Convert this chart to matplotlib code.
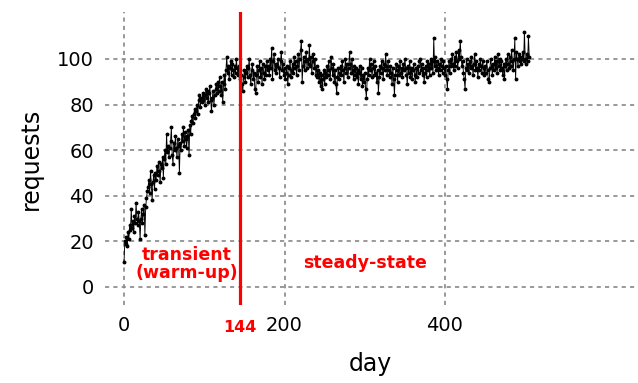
import matplotlib
matplotlib.use('Agg')
import matplotlib.pyplot as plt

# daily request counts
requests = [
    11, 20, 19, 22, 18, 24, 21, 27, 25, 34,
    26, 29, 24, 31, 28, 37, 30, 27, 33, 29,
    21, 30, 34, 28, 32, 36, 23, 35, 39, 42,
    44, 47, 41, 51, 45, 38, 46, 49, 43, 50,
    47, 53, 49, 55, 51, 46, 54, 52, 57, 48,
    56, 60, 54, 67, 59, 62, 57, 61, 64, 70,
    58, 54, 63, 60, 66, 61, 57, 65, 62, 50,
    63, 60, 67, 64, 70, 62, 68, 65, 61, 66,
    69, 58, 71, 67, 73, 75, 72, 76, 78, 74,
    77, 80, 76, 82, 84, 79, 83, 81, 85, 82,
    84, 80, 87, 83, 86, 81, 85, 88, 82, 77,
    83, 86, 80, 84, 87, 89, 85, 90, 86, 92,
    88, 84, 90, 81, 89, 93, 87, 95, 101, 94,
    97, 91, 96, 99, 93, 98, 95, 92, 97, 94,
    100, 96, 93, 97, 91, 95, 93, 89, 86, 92,
    95, 90, 94, 97, 92, 96, 100, 93, 89, 95,
    98, 91, 94, 87, 85, 93, 97, 90, 95, 99,
    92, 96, 89, 98, 94, 91, 97, 93, 99, 95,
    97, 93, 100, 96, 105, 91, 99, 102, 95, 98,
    94, 97, 100, 96, 92, 99, 103, 95, 98, 93,
    96, 91, 94, 97, 89, 93, 96, 99, 92, 95,
    98, 94, 101, 96, 99, 93, 97, 102, 95, 100,
    104, 108, 90, 97, 101, 95, 99, 103, 96, 100,
    98, 106, 97, 101, 94, 99, 102, 96, 100, 93,
    97, 92, 95, 90, 94, 88, 93, 87, 91, 95,
    89, 94, 92, 97, 93, 99, 95, 91, 101, 96,
    93, 98, 90, 95, 89, 85, 92, 96, 91, 94,
    97, 93, 99, 95, 90, 96, 100, 94, 98, 92,
    96, 103, 98, 94, 100, 95, 91, 97, 93, 96,
    92, 95, 89, 94, 97, 91, 96, 88, 93, 90,
    94, 87, 83, 91, 96, 93, 100, 95, 98, 92,
    96, 99, 93, 97, 94, 90, 95, 85, 92, 97,
    94, 99, 96, 91, 98, 95, 102, 97, 93, 99,
    95, 92, 97, 94, 89, 96, 91, 84, 93, 98,
    95, 90, 97, 93, 99, 94, 96, 92, 98, 95,
    100, 96, 93, 89, 97, 94, 99, 92, 96, 91,
    95, 98, 93, 90, 96, 92, 97, 94, 99, 100,
    95, 98, 93, 96, 90, 94, 97, 92, 99, 95,
    98, 93, 100, 96, 99, 94, 109, 97, 101, 95,
    99, 96, 93, 98, 95, 100, 97, 94, 99, 96,
    93, 97, 91, 87, 95, 99, 94, 100, 97, 102,
    98, 95, 101, 97, 103, 99, 96, 104, 100, 108,
    101, 97, 99, 94, 91, 87, 96, 100, 95, 98,
    94, 99, 96, 101, 97, 93, 98, 102, 95, 99,
    96, 92, 98, 95, 100, 97, 94, 99, 96, 93,
    97, 94, 99, 95, 91, 90, 96, 100, 97, 93,
    98, 95, 101, 96, 99, 94, 102, 97, 100, 95,
    99, 96, 93, 98, 91, 97, 100, 95, 102, 98,
    96, 101, 97, 104, 99, 95, 100, 109, 91, 103,
    100, 97, 102, 99, 101, 98, 100, 103, 99, 112,
    100, 98, 102, 99, 110, 101,
]
days = list(range(len(requests)))

warmup_end = 144
x_ticks = [0, warmup_end, 200, 400]
y_ticks = [0, 20, 40, 60, 80, 100]


def main():
    fig = plt.figure(figsize=(6.38, 3.83), dpi=100)
    ax = fig.add_axes([0.1646, 0.2037, 0.8307, 0.765])

    ax.plot(days, requests, color='black', linewidth=0.65,
            marker='o', markersize=1.8, zorder=3)
    ax.axvline(x=warmup_end, color='red', linewidth=2.3, zorder=4)

    ax.text(78, 10, 'transient\n(warm-up)', color='red', fontsize=12.5,
            fontweight='bold', ha='center', va='center', linespacing=1.0)
    ax.text(301, 10.5, 'steady-state', color='red', fontsize=12.5,
            fontweight='bold', ha='center', va='center')

    ax.set_xlim(-23.7, 636.8)
    ax.set_ylim(-7.9, 120.6)
    ax.set_xticks(x_ticks)
    ax.set_yticks(y_ticks)
    ax.tick_params(length=0, labelsize=14, pad=8)
    lbl = ax.get_xticklabels()[1]
    lbl.set_color('red')
    lbl.set_fontweight('bold')
    lbl.set_fontsize(11.5)
    lbl.set_y(-0.012)

    ax.grid(True, color='#888888', linestyle=(0, (2.5, 2.5)), linewidth=1.2)
    for s in ax.spines.values():
        s.set_visible(False)

    ax.set_xlabel('day', fontsize=17, labelpad=12)
    ax.set_ylabel('requests', fontsize=17, labelpad=10)

    fig.savefig('out.png', dpi=100)


if __name__ == '__main__':
    main()
